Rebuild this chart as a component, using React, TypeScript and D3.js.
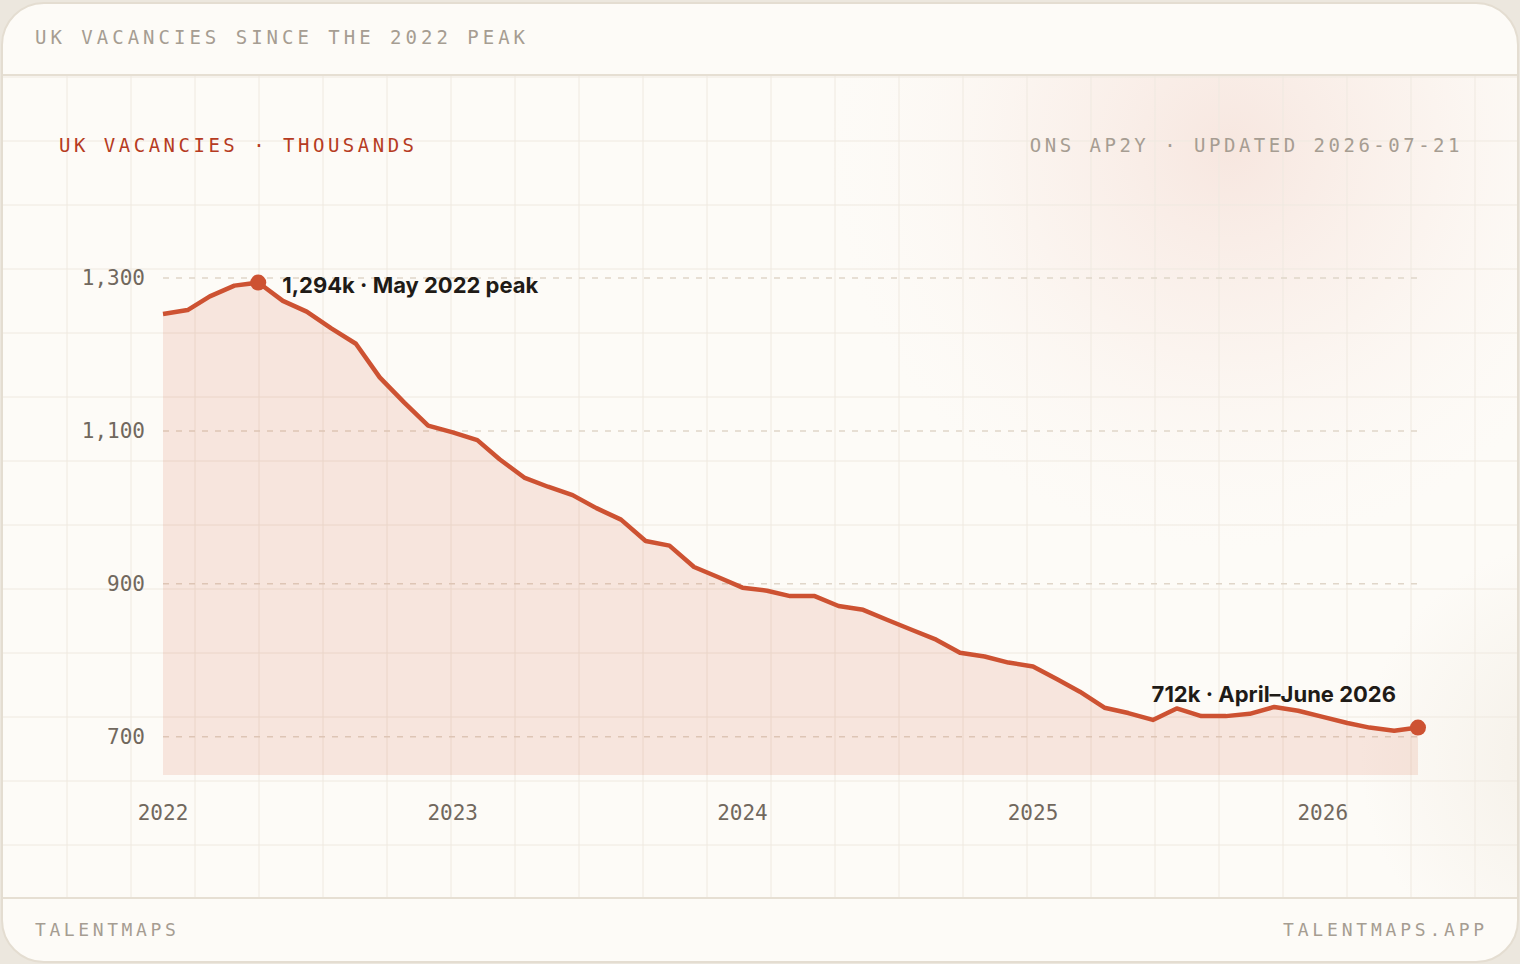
import { useEffect } from 'react';
import * as d3 from 'd3';

// ONS AP2Y, UK vacancies (thousands), rolling quarter, monthly from Jan 2022
const START_MONTH = '2022-01';
const vacancies = [
  1253, 1258, 1276, 1290, 1294, 1270, 1256, 1234, 1214, 1170, 1137, 1107,
  1098, 1088, 1063, 1039, 1027, 1016, 999, 984, 956, 950, 922, 909,
  895, 891, 884, 884, 871, 866, 853, 840, 827, 810, 805, 797,
  792, 775, 759, 738, 731, 722, 737, 727, 727, 730, 739, 734,
  726, 718, 712, 708, 712,
];
const yTicks = [700, 900, 1100, 1300];
const xTickYears = [2022, 2023, 2024, 2025, 2026];
const peakLabel = '1,294k · May 2022 peak';
const latestLabel = '712k · April–June 2026';

const W = 1520;
const H = 964;
const MONO = '"DejaVu Sans Mono", "Liberation Mono", monospace';
const SANS = 'Inter, "Noto Sans", sans-serif';
const RED = '#cd5232';

export default function App() {
  useEffect(() => {
    document.body.style.margin = '0';
  }, []);

  const parse = d3.timeParse('%Y-%m');
  const start = parse(START_MONTH)!;
  const points = vacancies.map((v, i) => ({ date: d3.timeMonth.offset(start, i), value: v }));

  const x = d3
    .scaleTime()
    .domain([start, points[points.length - 1].date])
    .range([163, 1418]);
  const y = d3.scaleLinear().domain([650, 1350]).range([775, 239.75]);

  const line = d3
    .line<{ date: Date; value: number }>()
    .x((d) => x(d.date))
    .y((d) => y(d.value));
  const area = d3
    .area<{ date: Date; value: number }>()
    .x((d) => x(d.date))
    .y0(y(650))
    .y1((d) => y(d.value));

  const peak = points.reduce((a, b) => (b.value > a.value ? b : a));
  const last = points[points.length - 1];

  // background grid of the card body, 64px cells
  const gridX = d3.range(67, 1518, 64);
  const gridY = d3.range(77, 898, 64);

  const fmt = d3.format(',');

  return (
    <svg width={W} height={H} style={{ display: 'block' }}>
      <defs>
        <clipPath id="card">
          <rect x={2} y={3} width={1516} height={959} rx={42} />
        </clipPath>
        <radialGradient id="glow" cx="1230" cy="150" r="400" gradientUnits="userSpaceOnUse">
          <stop offset="0%" stopColor="#f3d9d0" stopOpacity={0.6} />
          <stop offset="50%" stopColor="#f6e2da" stopOpacity={0.3} />
          <stop offset="100%" stopColor="#fbf3ee" stopOpacity={0} />
        </radialGradient>
        <radialGradient id="glow2" cx="1580" cy="760" r="220" gradientUnits="userSpaceOnUse">
          <stop offset="0%" stopColor="#ebe3d6" stopOpacity={0.5} />
          <stop offset="100%" stopColor="#ebe3d6" stopOpacity={0} />
        </radialGradient>
      </defs>

      <rect width={W} height={H} fill="#ece7de" />

      <g clipPath="url(#card)">
        <rect x={2} y={3} width={1516} height={959} fill="#fdfbf7" />
        <rect x={2} y={76} width={1516} height={822} fill="url(#glow)" />
        <rect x={2} y={76} width={1516} height={822} fill="url(#glow2)" />
        {gridX.map((gx) => (
          <line key={'gx' + gx} x1={gx} x2={gx} y1={76} y2={898} stroke="#efe9e0" strokeWidth={1} />
        ))}
        {gridY.map((gy) => (
          <line key={'gy' + gy} x1={2} x2={1518} y1={gy} y2={gy} stroke="#efe9e0" strokeWidth={1} />
        ))}
        <line x1={2} x2={1518} y1={75} y2={75} stroke="#e6dfd3" strokeWidth={2} />
        <line x1={2} x2={1518} y1={898} y2={898} stroke="#e6dfd3" strokeWidth={2} />
      </g>
      <rect x={2} y={3} width={1516} height={959} rx={42} fill="none" stroke="#e4ddd1" strokeWidth={2} />

      {/* header / footer */}
      <text x={35} y={44} fontFamily={MONO} fontSize={19} letterSpacing={4} fill="#a69d92">
        UK VACANCIES SINCE THE 2022 PEAK
      </text>
      <text x={35} y={936} fontFamily={MONO} fontSize={18} letterSpacing={3.6} fill="#a69d92">
        TALENTMAPS
      </text>
      <text x={1488} y={936} fontFamily={MONO} fontSize={18} letterSpacing={3.8} fill="#a69d92" textAnchor="end">
        TALENTMAPS.APP
      </text>

      <text x={59} y={152} fontFamily={MONO} fontSize={19} letterSpacing={3.5} fill="#b63b22">
        UK VACANCIES · THOUSANDS
      </text>
      <text x={1463} y={152} fontFamily={MONO} fontSize={19} letterSpacing={3.5} fill="#a69d92" textAnchor="end">
        ONS AP2Y · UPDATED 2026-07-21
      </text>

      {/* y grid + labels */}
      {yTicks.map((t) => (
        <g key={t}>
          <line
            x1={x.range()[0]}
            x2={x.range()[1]}
            y1={y(t)}
            y2={y(t)}
            stroke="#e0d6c9"
            strokeWidth={1.5}
            strokeDasharray="6 7"
          />
          <text
            x={145}
            y={y(t)}
            dy="0.35em"
            textAnchor="end"
            fontFamily={MONO}
            fontSize={21}
            fill="#71685e"
          >
            {fmt(t)}
          </text>
        </g>
      ))}

      {xTickYears.map((yr) => {
        const d = new Date(yr, 0, 1);
        return (
          <text key={yr} x={x(d)} y={820} textAnchor="middle" fontFamily={MONO} fontSize={21} fill="#71685e">
            {yr}
          </text>
        );
      })}

      <path d={area(points)!} fill={RED} fillOpacity={0.13} />
      <path d={line(points)!} fill="none" stroke={RED} strokeWidth={4.5} strokeLinejoin="round" />

      <circle cx={x(peak.date)} cy={y(peak.value)} r={8} fill={RED} />
      <circle cx={x(last.date)} cy={y(last.value)} r={8} fill={RED} />

      <text
        x={x(peak.date) + 24}
        y={y(peak.value) + 10}
        fontFamily={SANS}
        fontSize={22}
        fontWeight={650}
        fill="#1f1b17"
      >
        {peakLabel}
      </text>
      <text
        x={x(last.date) - 22}
        y={y(last.value) - 26}
        textAnchor="end"
        fontFamily={SANS}
        fontSize={22}
        fontWeight={650}
        fill="#1f1b17"
      >
        {latestLabel}
      </text>
    </svg>
  );
}
